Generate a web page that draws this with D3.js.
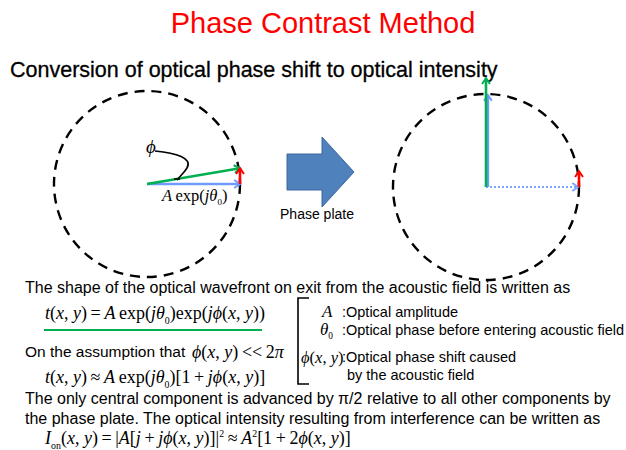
<!DOCTYPE html>
<html>
<head>
<meta charset="utf-8">
<script src="https://cdn.jsdelivr.net/npm/d3@7"></script>
<style>
  body { margin: 0; background: #fff; }
  text { font-family: "Liberation Sans", Arial, sans-serif; }
  .m { font-family: "Liberation Serif", "Times New Roman", serif; }
</style>
</head>
<body>
<div id="slide"></div>
<script>
// phasor vectors, in units of the circle radius (x right, y up)
var leftVectors = [
  {name: "carrier", x0: 0, y0: 0, x1: 1, y1: 0},
  {name: "total",   x0: 0, y0: 0, x1: 1, y1: 0.17},
  {name: "shift",   x0: 1, y0: 0, x1: 1, y1: 0.17}
];
var rightVectors = [
  {name: "dotted",  x0: 0,    y0: 0, x1: 0.99, y1: 0},
  {name: "carrier", x0: 0.02, y0: 0, x1: 0.02, y1: 0.99},
  {name: "total",   x0: 0,    y0: 0, x1: 0,    y1: 1.17},
  {name: "shift",   x0: 1,    y0: 0, x1: 1,    y1: 0.17}
];
var vecColor = {carrier: "#6f9bff", total: "#00b050", shift: "#ff0000", dotted: "#7aa6ff"};

var titleText = "Phase Contrast Method";
var subtitleText = "Conversion of optical phase shift to optical intensity";
var bodyLines = [
  "The shape of the optical wavefront on exit from the acoustic field is written as",
  "The only central component is advanced by \u03c0/2 relative to all other components by",
  "the phase plate. The optical intensity resulting from interference can be written as"
];
var legendItems = [
  ":Optical amplitude",
  ":Optical phase before entering acoustic field",
  ":Optical phase shift caused",
  "by the acoustic field"
];

var W = 626, H = 450;
var svg = d3.select("#slide").append("svg").attr("width", W).attr("height", H);

// title
svg.append("text").attr("x", 323).attr("y", 33)
  .attr("text-anchor", "middle").style("font-size", "29px").attr("fill", "#ff0000")
  .text(titleText);
svg.append("text").attr("x", 10).attr("y", 77)
  .style("font-size", "21.5px").attr("fill", "#000")
  .attr("stroke", "#000").attr("stroke-width", 0.3)
  .text(subtitleText);

// arrow heads drawn by hand
function head(g, x0, y0, x1, y1, col, w) {
  var a = Math.atan2(y1 - y0, x1 - x0), L = 7, s = 0.6;
  var p = [[x1 - L * Math.cos(a - s), y1 - L * Math.sin(a - s)], [x1, y1],
           [x1 - L * Math.cos(a + s), y1 - L * Math.sin(a + s)]];
  g.append("path").attr("d", d3.line()(p)).attr("fill", "none")
    .attr("stroke", col).attr("stroke-width", w).attr("stroke-linejoin", "miter");
}

function phasor(cx, cy, r, vectors) {
  var x = d3.scaleLinear().domain([-1, 1]).range([cx - r, cx + r]);
  var y = d3.scaleLinear().domain([-1, 1]).range([cy + r, cy - r]);
  var g = svg.append("g");
  g.append("circle").attr("cx", x(0)).attr("cy", y(0)).attr("r", x(1) - x(0))
    .attr("fill", "none").attr("stroke", "#000").attr("stroke-width", 2.4)
    .attr("stroke-dasharray", "10,7");
  vectors.forEach(function (v) {
    var col = vecColor[v.name];
    var w = v.name == "dotted" ? 2.2 : 2.6;
    g.append("line")
      .attr("x1", x(v.x0)).attr("y1", y(v.y0)).attr("x2", x(v.x1)).attr("y2", y(v.y1))
      .attr("stroke", col).attr("stroke-width", w)
      .attr("stroke-dasharray", v.name == "dotted" ? "2,2" : null);
    head(g, x(v.x0), y(v.y0), x(v.x1), y(v.y1), col, 2);
  });
  return {x: x, y: y, g: g};
}

var L = phasor(147, 184, 93, leftVectors);
var R = phasor(486, 187, 93, rightVectors);

// phi label and pointer on the left diagram
svg.append("text").attr("class", "m").attr("x", 146).attr("y", 153)
  .style("font-size", "19px").style("font-style", "italic").text("\u03d5");
svg.append("path")
  .attr("d", "M155,151 C176,153 193,158 187,168 C184,173 180,176 177,180 M174,179 L180,179")
  .attr("fill", "none").attr("stroke", "#000").attr("stroke-width", 1.6);

// math text helper: [string, kind] kinds: i italic, r roman, b subscript, p superscript
function math(x, y, parts, size) {
  var t = svg.append("text").attr("class", "m").attr("x", x).attr("y", y)
    .style("font-size", size + "px").attr("fill", "#000");
  var off = 0;
  parts.forEach(function (p) {
    var target = p[1] == "b" ? size * 0.25 : p[1] == "p" ? -size * 0.4 : 0;
    var ts = t.append("tspan").attr("dy", target - off).text(p[0]);
    off = target;
    if (p[1] == "i") ts.style("font-style", "italic");
    if (p[1] == "b" || p[1] == "p") ts.style("font-size", (size * 0.55) + "px");
  });
  return t;
}

var sp = "\u2009";
math(162, 201, [["A", "i"], [sp + "exp", "r"], ["(", "r"], ["j\u03b8", "i"], ["0", "b"], [")", "r"]], 16.5);

// big phase-plate arrow
svg.append("path")
  .attr("d", "M287,154 L322,154 L322,137 L354,172 L322,207 L322,190 L287,190 Z")
  .attr("fill", "#4f81bd").attr("stroke", "#3a67a0").attr("stroke-width", 1);
svg.append("text").attr("x", 317).attr("y", 219).attr("text-anchor", "middle")
  .style("font-size", "14px").text("Phase plate");

// body text
var body = svg.append("g").style("font-size", "16px");
body.append("text").attr("x", 25).attr("y", 293).text(bodyLines[0]);
body.append("text").attr("x", 25).attr("y", 404).text(bodyLines[1]);
body.append("text").attr("x", 25).attr("y", 424).text(bodyLines[2]);
body.append("text").attr("x", 25).attr("y", 357).style("font-size", "15.5px").text("On the assumption that");

var xy = [["(", "r"], ["x", "i"], [", ", "r"], ["y", "i"], [")", "r"]];
math(45, 319, [["t", "i"]].concat(xy, [[sp + "=" + sp, "r"], ["A", "i"], [sp + "exp", "r"], ["(", "r"],
  ["j\u03b8", "i"], ["0", "b"], [")", "r"], ["exp", "r"], ["(", "r"], ["j\u03d5", "i"]], xy, [[")", "r"]]), 18);
svg.append("line").attr("x1", 44).attr("x2", 262).attr("y1", 330).attr("y2", 330)
  .attr("stroke", "#00b050").attr("stroke-width", 2);

math(192, 358, [["\u03d5", "i"]].concat(xy, [[sp + "<<" + sp + "2", "r"], ["\u03c0", "i"]]), 18);
math(45, 383, [["t", "i"]].concat(xy, [[sp + "\u2248" + sp, "r"], ["A", "i"], [sp + "exp", "r"], ["(", "r"],
  ["j\u03b8", "i"], ["0", "b"], [")", "r"], ["[1" + sp + "+" + sp, "r"], ["j\u03d5", "i"]], xy, [["]", "r"]]), 18);
math(45, 444, [["I", "i"], ["on", "b"]].concat(xy, [[sp + "=" + sp + "|", "r"], ["A", "i"], ["[", "r"], ["j", "i"],
  [sp + "+" + sp, "r"], ["j\u03d5", "i"]], xy, [["]|", "r"], ["2", "p"], [sp + "\u2248" + sp, "r"], ["A", "i"], ["2", "p"],
  ["[1" + sp + "+" + sp + "2", "r"], ["\u03d5", "i"]], xy, [["]", "r"]]), 18);

// legend bracket and definitions
svg.append("path").attr("d", "M309,298 L298,298 L298,384 L309,384")
  .attr("fill", "none").attr("stroke", "#000").attr("stroke-width", 1.6);
math(322, 317, [["A", "i"]], 17);
math(320, 335, [["\u03b8", "i"], ["0", "b"]], 17);
math(301, 363, [["\u03d5", "i"]].concat(xy), 16.5);
var leg = svg.append("g").style("font-size", "14.5px");
leg.append("text").attr("x", 342).attr("y", 317).text(legendItems[0]);
leg.append("text").attr("x", 342).attr("y", 335).text(legendItems[1]);
leg.append("text").attr("x", 342).attr("y", 362).text(legendItems[2]);
leg.append("text").attr("x", 347).attr("y", 380).text(legendItems[3]);
</script>
</body>
</html>
